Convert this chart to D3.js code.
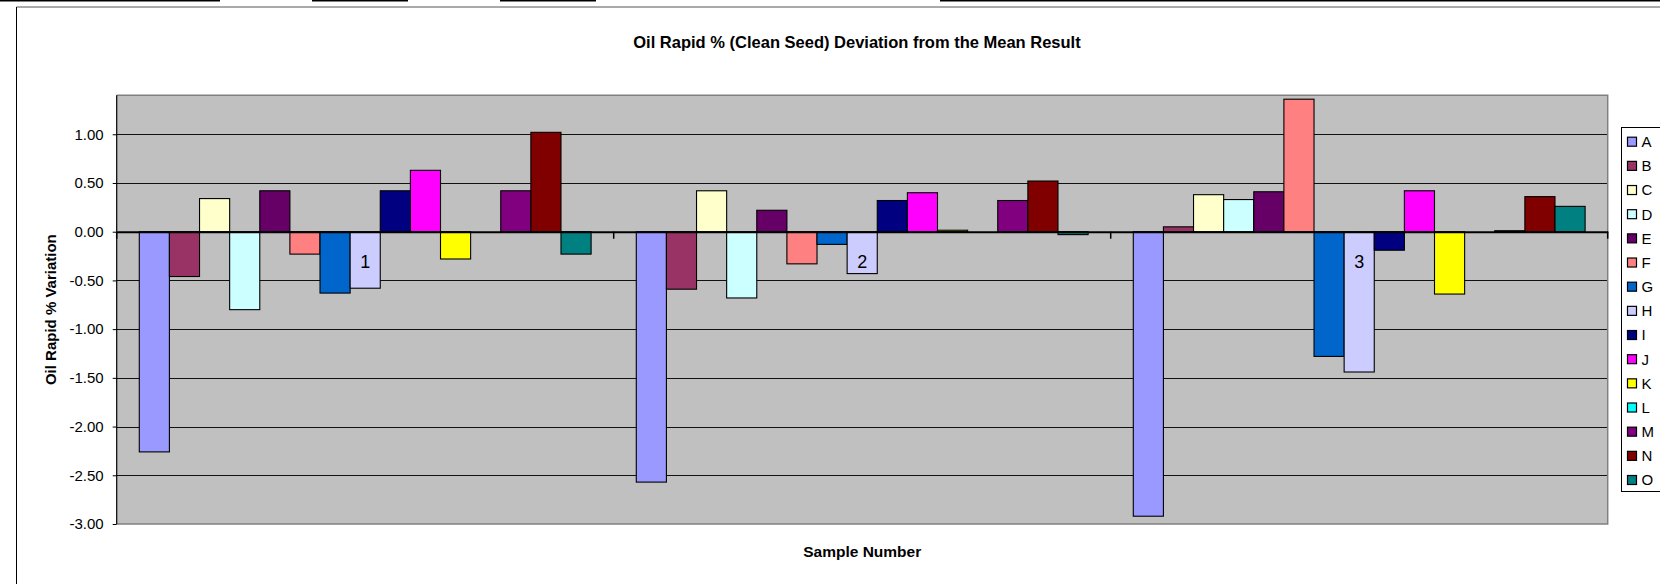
<!DOCTYPE html>
<html>
<head>
<meta charset="utf-8">
<script src="https://cdn.jsdelivr.net/npm/d3@7"></script>
<style>
html,body{margin:0;padding:0;background:#fff;}
svg{display:block;}
text{font-family:"Liberation Sans",Arial,Helvetica,sans-serif;fill:#000;}
</style>
</head>
<body>
<svg id="chart" width="1660" height="584"></svg>
<script>
// ---- data ----
const categories = ["1", "2", "3"];
const seriesNames = ["A","B","C","D","E","F","G","H","I","J","K","L","M","N","O"];
const seriesColors = ["#9999FF","#993366","#FFFFCC","#CCFFFF","#660066","#FF8080","#0066CC","#CCCCFF","#000080","#FF00FF","#FFFF00","#00FFFF","#800080","#800000","#008080"];
const valuesA = [-2.26, -2.57, -2.92];
const valuesB = [-0.46, -0.59, 0.05];
const valuesC = [0.34, 0.42, 0.38];
const valuesD = [-0.80, -0.68, 0.33];
const valuesE = [0.42, 0.22, 0.41];
const valuesF = [-0.23, -0.33, 1.36];
const valuesG = [-0.63, -0.13, -1.28];
const valuesH = [-0.58, -0.43, -1.44];
const valuesI = [0.42, 0.32, -0.19];
const valuesJ = [0.63, 0.40, 0.42];
const valuesK = [-0.28, 0.015, -0.64];
const valuesL = [null, null, null];
const valuesM = [0.42, 0.32, 0.01];
const valuesN = [1.02, 0.52, 0.36];
const valuesO = [-0.23, -0.03, 0.26];
const yTicks = [-3, -2.5, -2, -1.5, -1, -0.5, 0, 0.5, 1];
const titleText = "Oil Rapid % (Clean Seed) Deviation from the Mean Result";
const yTitleText = "Oil Rapid % Variation";
const xTitleText = "Sample Number";

const allValues = [valuesA,valuesB,valuesC,valuesD,valuesE,valuesF,valuesG,valuesH,valuesI,valuesJ,valuesK,valuesL,valuesM,valuesN,valuesO];
const rows = [];
categories.forEach((c, ci) => {
  seriesNames.forEach((s, si) => {
    const v = allValues[si][ci];
    if (v !== null && v !== undefined) rows.push({cat: c, series: s, value: v, color: seriesColors[si]});
  });
});

// ---- layout ----
const svg = d3.select("#chart");
const plot = {left: 116.7, right: 1607.7, top: 95.3, bottom: 524};

// spreadsheet cell borders at very top
const topSegs = [[0,220],[312,408],[500,596],[940,1660]];
svg.append("g").selectAll("line").data(topSegs).join("line")
  .attr("x1", d => d[0]).attr("x2", d => d[1]).attr("y1", 0.8).attr("y2", 0.8)
  .attr("stroke", "#000").attr("stroke-width", 1.6);

// chart outer border
svg.append("line").attr("x1", 16.5).attr("x2", 1660).attr("y1", 7).attr("y2", 7)
  .attr("stroke", "#555").attr("stroke-width", 1);
svg.append("line").attr("x1", 16.5).attr("x2", 16.5).attr("y1", 7).attr("y2", 584)
  .attr("stroke", "#000").attr("stroke-width", 1);

const x0 = d3.scaleBand().domain(categories).range([plot.left, plot.right]).paddingInner(0).paddingOuter(0);
const x1 = d3.scaleBand().domain(seriesNames).range([0, x0.bandwidth()]).paddingInner(0).paddingOuter(0.75);
const y = d3.scaleLinear().domain([-3, 1.4]).range([plot.bottom, plot.top]);
const color = d3.scaleOrdinal().domain(seriesNames).range(seriesColors);

// plot area
svg.append("rect").attr("x", plot.left).attr("y", plot.top)
  .attr("width", plot.right - plot.left).attr("height", plot.bottom - plot.top)
  .attr("fill", "#C0C0C0");

// gridlines
svg.append("g").selectAll("line").data(yTicks.filter(t => t !== -3)).join("line")
  .attr("x1", plot.left).attr("x2", plot.right)
  .attr("y1", d => Math.round(y(d)) + 0.5).attr("y2", d => Math.round(y(d)) + 0.5)
  .attr("stroke", "#111").attr("stroke-width", 1);

// plot border (top, right, bottom)
svg.append("path")
  .attr("d", `M${plot.left},${plot.top}H${plot.right}V${plot.bottom}H${plot.left}`)
  .attr("fill", "none").attr("stroke", "#808080").attr("stroke-width", 1.5);

// bars
const y0 = y(0);
svg.append("g").selectAll("rect").data(rows).join("rect")
  .attr("x", d => x0(d.cat) + x1(d.series))
  .attr("width", x1.bandwidth())
  .attr("y", d => Math.min(y(d.value), y0))
  .attr("height", d => Math.abs(y(d.value) - y0))
  .attr("fill", d => color(d.series))
  .attr("stroke", "#000").attr("stroke-width", 1.1);

// y axis
const yAxis = svg.append("g").attr("transform", `translate(${plot.left},0)`)
  .call(d3.axisLeft(y).tickValues(yTicks).tickFormat(d => d.toFixed(2)).tickSize(4).tickSizeOuter(0).tickPadding(9));
yAxis.select(".domain").remove();
yAxis.append("line").attr("x1", 0).attr("x2", 0).attr("y1", plot.top).attr("y2", plot.bottom)
  .attr("stroke", "#000").attr("stroke-width", 1.2);
yAxis.selectAll(".tick line").attr("stroke", "#000");
yAxis.selectAll("text").attr("font-size", 15).attr("font-family", "'Liberation Sans',Arial,sans-serif").attr("fill", "#000");

// x axis at zero
const xAxis = svg.append("g").attr("transform", `translate(0,${y0})`)
  .call(d3.axisBottom(x0).tickSize(0).tickSizeOuter(0).tickPadding(23.5));
xAxis.select(".domain").attr("stroke", "#000").attr("stroke-width", 2);
xAxis.selectAll("text").attr("font-size", 18).attr("font-family", "'Liberation Sans',Arial,sans-serif").attr("fill", "#000");
const boundaries = categories.map(c => x0(c)).concat([x0.range()[1]]);
xAxis.selectAll("line.bnd").data(boundaries).join("line").attr("class", "bnd")
  .attr("x1", d => d).attr("x2", d => d).attr("y1", 0).attr("y2", 7)
  .attr("stroke", "#000").attr("stroke-width", 1.5);

// titles
svg.append("text").attr("x", 857).attr("y", 42).attr("dy", "0.35em")
  .attr("text-anchor", "middle").attr("font-weight", "bold").attr("font-size", 16.5)
  .text(titleText);
svg.append("text").attr("transform", `translate(51,${(plot.top + plot.bottom) / 2}) rotate(-90)`)
  .attr("dy", "0.35em").attr("text-anchor", "middle").attr("font-weight", "bold").attr("font-size", 15)
  .text(yTitleText);
svg.append("text").attr("x", (plot.left + plot.right) / 2).attr("y", 552).attr("dy", "0.35em")
  .attr("text-anchor", "middle").attr("font-weight", "bold").attr("font-size", 15.5)
  .text(xTitleText);

// legend
const legendY = d3.scalePoint().domain(seriesNames).range([141.7, 480]);
svg.append("rect").attr("x", 1621.5).attr("y", 127.5).attr("width", 80).attr("height", 364)
  .attr("fill", "#fff").attr("stroke", "#000").attr("stroke-width", 1);
const lg = svg.append("g").selectAll("g").data(seriesNames).join("g")
  .attr("transform", d => `translate(0,${legendY(d)})`);
lg.append("rect").attr("x", 1627.5).attr("y", -4.5).attr("width", 9).attr("height", 9)
  .attr("fill", d => color(d)).attr("stroke", "#000").attr("stroke-width", 1.2);
lg.append("text").attr("x", 1641.5).attr("y", 0).attr("dy", "0.36em").attr("font-size", 15)
  .text(d => d);
</script>
</body>
</html>
